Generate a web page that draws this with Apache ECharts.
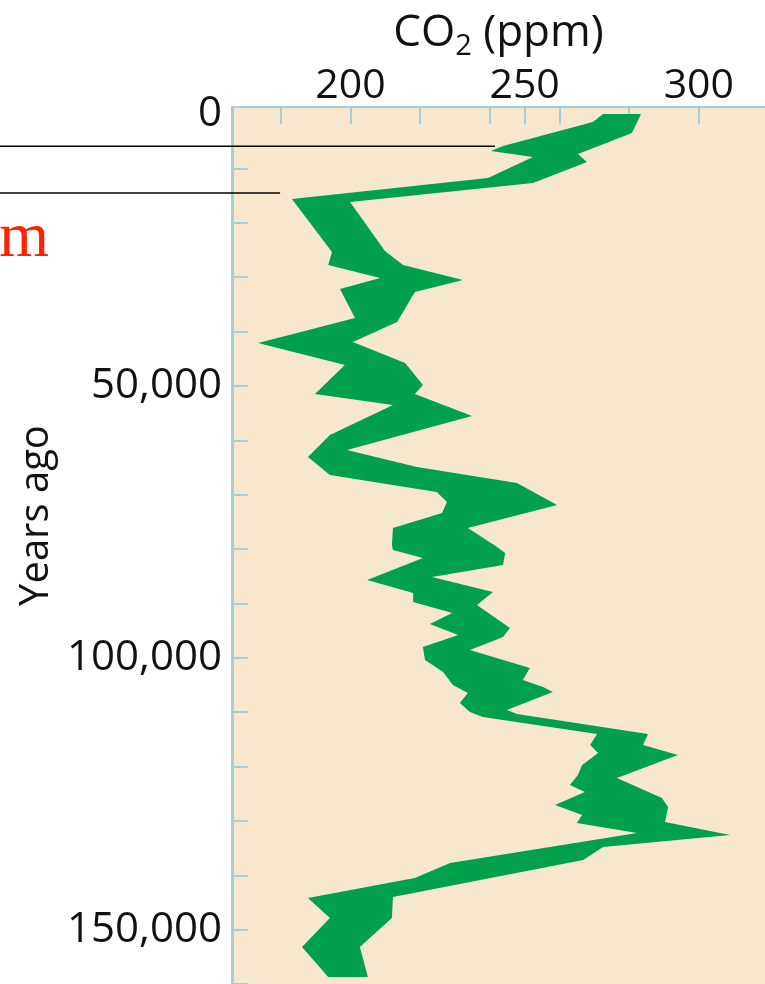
<!DOCTYPE html>
<html>
<head>
<meta charset="utf-8">
<script src="https://cdn.jsdelivr.net/npm/echarts@6/dist/echarts.min.js"></script>
<style>
  html, body { margin: 0; padding: 0; background: #ffffff; }
  #chart { width: 765px; height: 984px; }
</style>
</head>
<body>
<div id="chart"></div>
<script>
// ---- Data (CO2 envelope) ----
// Low edge of the CO2 band
const lowYears = [0, 1460, 5870, 6790, 7890, 11750, 15620, 25380, 27770, 30160, 32180, 37520, 42110, 46160, 51490, 53520, 59010, 63060, 66370, 69500, 71340, 73360, 76120, 79250, 80170, 81640, 85690, 88080, 89730, 91760, 93780, 95810, 98010, 100400, 102610, 105000, 106470, 108310, 109960, 110880, 114010, 116030, 117500, 119710, 121550, 123390, 124680, 127070, 128910, 130380, 132220, 137740, 140500, 144180, 147860, 153190, 158710];
const lowCO2 = [272.5, 269.6, 243.8, 240.3, 252.4, 239.5, 183.2, 194.7, 193.6, 208.5, 197.0, 201.3, 173.5, 198.4, 189.8, 212.2, 194.1, 187.8, 194.1, 224.8, 227.7, 226.3, 212.2, 211.9, 212.2, 220.8, 204.8, 218.0, 218.0, 229.2, 222.8, 230.9, 220.8, 221.4, 226.6, 229.4, 233.7, 231.4, 234.3, 238.0, 270.8, 268.8, 271.1, 266.5, 265.3, 263.0, 267.3, 258.7, 266.5, 265.0, 282.3, 228.6, 218.5, 187.8, 194.1, 186.1, 193.6];
// High edge of the CO2 band
const highYears = [0, 3480, 7340, 8820, 12680, 16170, 25190, 27770, 30530, 32730, 38250, 41930, 45790, 49840, 51490, 55540, 61790, 64920, 67860, 71910, 76140, 79630, 80740, 82940, 85150, 87910, 90300, 94530, 96190, 98580, 101890, 104100, 105380, 106300, 109610, 110350, 114010, 116030, 117870, 122100, 125780, 127440, 130200, 132590, 134800, 137190, 144000, 147860, 153190, 158710];
const highCO2 = [283.4, 280.8, 265.3, 267.9, 252.4, 199.9, 209.9, 215.1, 232.3, 218.5, 213.4, 200.7, 215.7, 220.8, 218.5, 234.9, 199.0, 219.1, 247.8, 259.3, 233.7, 242.1, 244.4, 243.8, 223.4, 240.9, 236.3, 245.8, 243.8, 234.3, 251.5, 249.5, 255.3, 258.1, 244.9, 247.8, 285.4, 284.0, 294.0, 276.5, 289.4, 291.2, 290.3, 309.0, 272.5, 266.8, 212.2, 211.9, 202.7, 205.0];

// Axis ticks / labels
const co2TickValues = [180, 200, 220, 240, 250, 260, 280, 300];
const co2LabelValues = [200, 250, 300];
const yearTickValues = [10000, 20000, 30000, 40000, 50000, 60000, 70000, 80000, 90000, 100000, 110000, 120000, 130000, 140000, 150000, 160000];
const yearLabelValues = [0, 50000, 100000, 150000];

// Annotation pointer lines (year, CO2 where the line ends)
const pointerYears = [5900, 14500];
const pointerCO2 = [241.5, 179.8];

const FONT = 'Open Sans';
const AXIS_COLOR = '#a7cfd8';

const chart = echarts.init(document.getElementById('chart'), null, { renderer: 'canvas' });

function fmtYear(v) {
  return String(v).replace(/\B(?=(\d{3})+(?!\d))/g, ',');
}

const option = {
  animation: false,
  backgroundColor: '#ffffff',
  grid: {
    left: 232, top: 107, right: 0, bottom: 0,
    show: true, backgroundColor: '#f6e7cd', borderWidth: 0
  },
  xAxis: {
    type: 'value',
    position: 'top',
    min: 166, max: 319,
    name: '{a|CO}{b|2}{a| (ppm)}',
    nameLocation: 'middle',
    nameGap: 15,
    nameTextStyle: {
      rich: {
        a: { fontSize: 44, fontFamily: FONT, color: '#111', lineHeight: 44, verticalAlign: 'top' },
        b: { fontSize: 29, fontFamily: FONT, color: '#111', lineHeight: 70 }
      }
    },
    axisLine: { show: true, onZero: false, lineStyle: { color: AXIS_COLOR, width: 2 } },
    axisTick: { show: true, inside: true, length: 17, customValues: co2TickValues, lineStyle: { color: AXIS_COLOR, width: 2 } },
    axisLabel: { customValues: co2LabelValues, fontSize: 41, fontFamily: FONT, color: '#111', margin: 0 },
    splitLine: { show: false }
  },
  yAxis: {
    type: 'value',
    inverse: true,
    min: -1300, max: 160000,
    name: 'Years ago',
    nameLocation: 'middle',
    nameRotate: 90,
    nameGap: 172,
    nameTextStyle: { fontSize: 40, fontFamily: FONT, color: '#111', padding: [0, 0, 0, 60] },
    axisLine: { show: true, onZero: false, lineStyle: { color: AXIS_COLOR, width: 3 } },
    axisTick: { show: true, inside: true, length: 16, customValues: yearTickValues, lineStyle: { color: AXIS_COLOR, width: 2 } },
    axisLabel: { customValues: yearLabelValues, formatter: fmtYear, fontSize: 42, fontFamily: FONT, color: '#111', margin: 10 },
    splitLine: { show: false }
  },
  series: [{
    type: 'custom',
    clip: true,
    data: [[lowCO2[0], lowYears[0]]],
    renderItem: function (params, api) {
      const pts = [];
      for (let i = 0; i < lowYears.length; i++) pts.push(api.coord([lowCO2[i], lowYears[i]]));
      for (let i = highYears.length - 1; i >= 0; i--) pts.push(api.coord([highCO2[i], highYears[i]]));
      return { type: 'polygon', shape: { points: pts }, style: { fill: '#00a04f' } };
    }
  }]
};

chart.setOption(option);

// Pointer lines and the cut-off red annotation text, positioned via the axes
const graphics = [];
for (let i = 0; i < pointerYears.length; i++) {
  const p = chart.convertToPixel({ gridIndex: 0 }, [pointerCO2[i], pointerYears[i]]);
  graphics.push({
    type: 'line', z: 100,
    shape: { x1: 0, y1: p[1], x2: p[0], y2: p[1] },
    style: { stroke: '#000', lineWidth: 1.5 }
  });
}
const pm = chart.convertToPixel({ gridIndex: 0 }, [pointerCO2[1], pointerYears[1]]);
graphics.push({
  type: 'text', z: 100,
  x: 49, y: pm[1] + 46,
  style: { text: 'm', fill: '#ff2200', font: '64px "Liberation Serif", serif', textAlign: 'right', textVerticalAlign: 'middle' }
});
chart.setOption({ graphic: graphics });
</script>
</body>
</html>
